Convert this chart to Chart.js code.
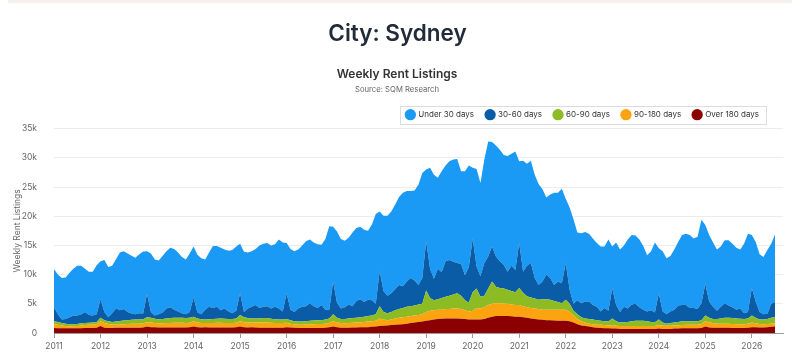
<!DOCTYPE html>
<html>
<head>
<meta charset="utf-8">
<script src="https://cdn.jsdelivr.net/npm/chart.js@4.4.1/dist/chart.umd.min.js"></script>
<style>
  html, body { margin: 0; padding: 0; background: #fff; }
  body { width: 800px; height: 363px; position: relative; overflow: hidden; font-family: Inter, "Open Sans", sans-serif; }
  .card-edge { position: absolute; left: 8px; right: 8px; top: 0; height: 3px; background: #f6f1ec; }
  h1 { position: absolute; top: 18px; left: 0; width: 795px; margin: 0; text-align: center; font-size: 22.5px; font-weight: 600; color: #222c38; line-height: 30px; z-index: 2; }
  #wrap { position: absolute; left: 0; top: 0; width: 800px; height: 363px; }
</style>
</head>
<body>
<div class="card-edge"></div>
<h1>City: Sydney</h1>
<div id="wrap"><canvas id="chart" width="800" height="363"></canvas></div>
<script>
// monthly readings, Jan 2011 .. Jul 2026
const START_YEAR = 2011;

const over180 = [
  850, 800, 800, 800, 800, 800, 800, 800, 850, 850, 850, 900,
  1200, 900, 850, 850, 900, 900, 900, 900, 900, 900, 900, 950,
  1100, 1000, 1000, 950, 950, 950, 950, 950, 950, 950, 950, 1000,
  1100, 1000, 950, 1000, 950, 950, 950, 950, 950, 950, 950, 1000,
  1100, 1000, 950, 1000, 950, 900, 900, 900, 900, 900, 900, 900,
  1000, 950, 900, 850, 850, 850, 850, 850, 850, 850, 900, 1000,
  1100, 1000, 900, 900, 900, 950, 950, 1000, 1000, 1000, 1050, 1100,
  1200, 1250, 1300, 1350, 1400, 1450, 1500, 1600, 1700, 1800, 1900, 1950,
  2100, 2200, 2300, 2400, 2450, 2500, 2500, 2500, 2500, 2450, 2400, 2300,
  2300, 2300, 2300, 2400, 2600, 2800, 2900, 2900, 2900, 2900, 2850, 2800,
  2800, 2700, 2600, 2500, 2400, 2300, 2250, 2200, 2200, 2150, 2100, 2100,
  2100, 2000, 1800, 1500, 1300, 1200, 1100, 1000, 900, 850, 800, 800,
  750, 750, 700, 700, 700, 700, 700, 700, 700, 700, 700, 700,
  750, 700, 700, 700, 750, 750, 800, 800, 800, 800, 800, 850,
  1100, 950, 900, 900, 900, 900, 900, 850, 850, 850, 850, 900,
  1000, 1000, 950, 950, 1000, 1050, 1100
];

const days90to180 = [
  600, 600, 500, 400, 350, 350, 400, 500, 500, 550, 600, 650,
  800, 800, 700, 600, 500, 550, 600, 650, 700, 700, 700, 700,
  750, 800, 700, 700, 700, 750, 750, 800, 800, 800, 750, 750,
  900, 800, 750, 700, 750, 750, 800, 800, 750, 750, 750, 750,
  900, 850, 850, 800, 850, 900, 900, 900, 850, 800, 800, 800,
  750, 650, 600, 550, 550, 600, 650, 650, 700, 700, 700, 750,
  900, 800, 800, 750, 800, 800, 850, 850, 900, 950, 950, 1000,
  1300, 1050, 900, 950, 1100, 1150, 1200, 1200, 1200, 1200, 1200, 1250,
  1500, 1600, 1600, 1600, 1550, 1600, 1600, 1700, 1700, 1650, 1500, 1400,
  1500, 2000, 1900, 2000, 2200, 2200, 2200, 2200, 2100, 2100, 2050, 2000,
  2000, 1900, 1800, 1800, 1800, 1800, 1750, 1800, 1800, 1850, 1900, 1900,
  1900, 1600, 1200, 900, 700, 600, 500, 500, 500, 550, 550, 500,
  600, 500, 500, 500, 500, 500, 500, 500, 500, 500, 500, 500,
  600, 550, 550, 550, 550, 550, 550, 600, 600, 600, 600, 650,
  900, 850, 800, 700, 700, 700, 700, 700, 650, 650, 650, 700,
  800, 650, 600, 550, 550, 550, 550
];

const days60to90 = [
  550, 500, 400, 400, 350, 350, 350, 350, 350, 350, 350, 350,
  600, 500, 450, 450, 550, 600, 650, 650, 650, 700, 700, 700,
  850, 800, 750, 700, 750, 800, 850, 850, 850, 850, 850, 850,
  800, 700, 650, 600, 650, 700, 700, 750, 750, 700, 700, 750,
  1100, 850, 750, 700, 700, 700, 750, 750, 700, 650, 600, 600,
  650, 600, 500, 550, 550, 550, 600, 650, 650, 650, 700, 750,
  1200, 800, 700, 750, 800, 800, 800, 850, 900, 950, 1000, 1100,
  2100, 1300, 1200, 1300, 1400, 1500, 1600, 1700, 1700, 1700, 1800, 1800,
  3700, 2200, 1700, 1800, 2000, 2100, 2300, 2400, 2600, 2300, 1700, 1500,
  3200, 3300, 2000, 2000, 2800, 3800, 2800, 2600, 2600, 2400, 2300, 2200,
  2900, 2300, 1900, 1800, 1700, 1600, 1800, 1800, 1700, 1500, 1300, 1100,
  1700, 1400, 800, 800, 700, 700, 800, 800, 800, 700, 650, 650,
  1150, 750, 600, 650, 700, 800, 900, 900, 900, 800, 700, 650,
  950, 550, 350, 450, 500, 600, 650, 600, 600, 600, 600, 700,
  1000, 800, 700, 800, 900, 1000, 1000, 1000, 1000, 950, 900, 900,
  1200, 950, 750, 800, 850, 1000, 1050
];

const days30to60 = [
  2400, 1300, 600, 800, 1200, 1500, 1450, 1550, 1900, 1350, 1200, 1300,
  3200, 1400, 700, 1500, 2300, 1850, 1950, 1400, 1100, 900, 1100, 1000,
  4000, 1000, 550, 850, 1100, 1700, 1850, 1400, 1100, 800, 650, 1000,
  3300, 1000, 850, 1700, 2150, 1900, 2050, 1400, 1750, 1300, 1000, 1300,
  3700, 900, 1650, 2000, 2300, 1800, 1950, 2050, 1750, 2150, 1900, 1400,
  4400, 1800, 1600, 2250, 2550, 2600, 3000, 2450, 2100, 2600, 1700, 1500,
  5600, 2600, 1800, 2000, 2400, 2050, 2900, 3100, 2500, 2800, 2600, 1800,
  6000, 3600, 3000, 3200, 3600, 4100, 3700, 4300, 4800, 4300, 3300, 4400,
  8400, 5000, 3700, 5200, 4400, 6100, 6100, 5600, 5200, 5400, 4300, 6100,
  9200, 3800, 3500, 5600, 5500, 6000, 5200, 4600, 4100, 3100, 4300, 3800,
  7700, 3600, 5200, 5900, 3500, 2500, 3000, 4200, 3700, 2700, 3500, 3400,
  6300, 2400, 1200, 2400, 2400, 2900, 3000, 2500, 2300, 1600, 2300, 1850,
  5100, 2800, 1800, 2650, 2300, 2900, 2900, 2300, 1900, 1700, 2000, 1650,
  4500, 1900, 1600, 2000, 2200, 2800, 2800, 2800, 2300, 2300, 2100, 2900,
  5400, 2800, 2100, 1400, 2000, 2500, 2100, 1850, 1500, 1750, 1000, 1100,
  4700, 2800, 1300, 900, 900, 2400, 2600
];

const under30 = [
  6500, 6800, 7100, 7100, 7600, 8000, 8500, 8300, 7400, 7400, 7500, 8400,
  6500, 8900, 8600, 8100, 8400, 9900, 9900, 10000, 9900, 9700, 10100, 10600,
  7300, 10000, 9600, 9200, 9700, 9800, 10200, 10400, 10100, 9600, 9400, 10000,
  8700, 9900, 9600, 8600, 9300, 10600, 10400, 10700, 10100, 10400, 10800, 11000,
  8500, 10300, 9600, 9500, 9600, 10700, 10800, 10800, 10800, 10700, 11800, 11800,
  8600, 10400, 10400, 10100, 10500, 11100, 10900, 10900, 10900, 10300, 12100, 14300,
  9400, 12200, 11900, 11400, 11400, 12600, 12500, 12400, 12400, 11800, 13000, 15400,
  10200, 12900, 13700, 14000, 14500, 15100, 16000, 15500, 14900, 15400, 17200, 18000,
  12300, 17300, 17800, 15600, 17300, 16400, 16900, 17500, 17800, 15900, 17800, 17400,
  12100, 16700, 16000, 17700, 19700, 17900, 19000, 19100, 18800, 19800, 19200, 20300,
  14000, 19000, 17500, 17500, 17700, 17300, 15800, 13200, 14300, 15800, 15200, 16200,
  11000, 14100, 14500, 11600, 12000, 11900, 11600, 11400, 10900, 11100, 10500, 12200,
  7200, 10700, 10700, 10500, 11800, 11900, 11700, 11600, 10900, 9600, 10100, 12000,
  7700, 10300, 9600, 9500, 10300, 10900, 12000, 12200, 12500, 11900, 12400, 14300,
  10100, 11400, 11000, 10500, 10300, 10800, 11200, 10900, 10600, 10100, 11900, 13400,
  9100, 10200, 9900, 9800, 10900, 10300, 11600
];

const seriesNames = ['Over 180 days', '90-180 days', '60-90 days', '30-60 days', 'Under 30 days'];
const seriesColors = ['#8b0000', '#fba40f', '#8cbb24', '#0b5ca6', '#1a9af5'];
const yTicks = [0, 5000, 10000, 15000, 20000, 25000, 30000, 35000];

// x position of each reading, in years
const months = under30.map((_, i) => START_YEAR + i / 12);

function toPoints(values) {
  return values.map((v, i) => ({ x: months[i], y: v }));
}

const seriesValues = [over180, days90to180, days60to90, days30to60, under30];

const datasets = seriesValues.map((vals, i) => ({
  label: seriesNames[i],
  data: toPoints(vals),
  backgroundColor: seriesColors[i],
  borderColor: seriesColors[i],
  borderWidth: 0,
  pointRadius: 0,
  tension: 0,
  fill: i === 0 ? 'origin' : '-1',
}));

// nudges the legend left a little and draws its frame
const legendFrame = {
  id: 'legendFrame',
  afterLayout(chart) {
    if (chart.legend) chart.legend.right -= 12;
  },
  afterDraw(chart) {
    const lg = chart.legend;
    if (!lg || !lg.legendHitBoxes || !lg.legendHitBoxes.length) return;
    const boxes = lg.legendHitBoxes;
    const x0 = Math.min(...boxes.map(b => b.left)) - 6;
    const x1 = Math.max(...boxes.map(b => b.left + b.width)) + 7;
    const y0 = Math.min(...boxes.map(b => b.top)) - 5;
    const y1 = Math.max(...boxes.map(b => b.top + b.height)) + 5;
    const ctx = chart.ctx;
    ctx.save();
    ctx.strokeStyle = '#dcdcdc';
    ctx.lineWidth = 1;
    ctx.strokeRect(Math.round(x0) + 0.5, Math.round(y0) + 0.5, Math.round(x1 - x0), Math.round(y1 - y0));
    ctx.restore();
  }
};

Chart.defaults.font.family = 'Inter, "Open Sans", sans-serif';

new Chart(document.getElementById('chart'), {
  type: 'line',
  data: { datasets: datasets },
  options: {
    responsive: false,
    animation: false,
    devicePixelRatio: 1,
    layout: { padding: { left: 11, right: 17, top: 60, bottom: 0 } },
    plugins: {
      title: {
        display: true,
        text: 'Weekly Rent Listings',
        color: '#333',
        font: { size: 12, weight: '600' },
        padding: { top: 7, bottom: 3 },
      },
      subtitle: {
        display: true,
        text: 'Source: SQM Research',
        color: '#666',
        font: { size: 7.7 },
        padding: { top: 1, bottom: 4 },
      },
      legend: {
        position: 'top',
        align: 'end',
        reverse: true,
        labels: {
          usePointStyle: true,
          pointStyle: 'circle',
          boxWidth: 8,
          boxHeight: 8,
          padding: 12,
          color: '#333',
          font: { size: 8 },
        },
      },
      tooltip: { enabled: false },
    },
    scales: {
      x: {
        type: 'linear',
        min: 2011,
        max: 2026.67,
        grid: { drawOnChartArea: false, drawTicks: true, tickLength: 5, color: '#9a9a9a' },
        border: { color: '#9a9a9a' },
        ticks: {
          stepSize: 1,
          includeBounds: false,
          autoSkip: false,
          maxRotation: 0,
          padding: 3,
          color: '#666',
          font: { size: 8.5 },
          callback: v => String(v),
        },
        afterFit(scale) { scale.height = 30; },
      },
      y: {
        stacked: true,
        min: 0,
        max: 35000,
        grid: { color: '#ececec', drawTicks: false },
        border: { display: false },
        afterBuildTicks(scale) { scale.ticks = yTicks.map(v => ({ value: v })); },
        ticks: {
          padding: 17,
          color: '#666',
          font: { size: 8.5 },
          callback: v => (v === 0 ? '0' : (v / 1000) + 'k'),
        },
        title: {
          display: true,
          text: 'Weekly Rent Listings',
          color: '#666',
          font: { size: 8.5 },
          padding: { top: 1, bottom: 0 },
        },
        afterFit(scale) { scale.width = 43; },
      },
    },
  },
  plugins: [legendFrame],
});
</script>
</body>
</html>
